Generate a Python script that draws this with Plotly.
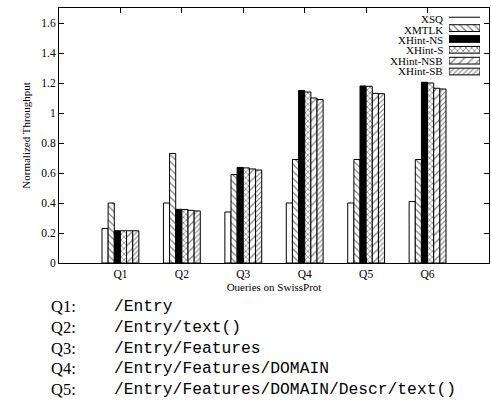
import plotly.graph_objects as go

QUERIES = ["Q1", "Q2", "Q3", "Q4", "Q5", "Q6"]
SERIES = ["XSQ", "XMTLK", "XHint-NS", "XHint-S", "XHint-NSB", "XHint-SB"]
XSQ = [0.23, 0.40, 0.34, 0.40, 0.40, 0.41]
XMTLK = [0.40, 0.73, 0.59, 0.69, 0.69, 0.69]
XHINT_NS = [0.215, 0.358, 0.637, 1.15, 1.18, 1.205]
XHINT_S = [0.215, 0.357, 0.634, 1.14, 1.178, 1.20]
XHINT_NSB = [0.215, 0.351, 0.627, 1.10, 1.131, 1.165]
XHINT_SB = [0.215, 0.347, 0.62, 1.09, 1.129, 1.16]
VALUES = [XSQ, XMTLK, XHINT_NS, XHINT_S, XHINT_NSB, XHINT_SB]
Y_TICKS = [0, 0.2, 0.4, 0.6, 0.8, 1, 1.2, 1.4, 1.6]
Y_TICK_LABELS = ["0", "0.2", "0.4", "0.6", "0.8", "1", "1.2", "1.4", "1.6"]
QUERY_LABELS = ["Q1:", "Q2:", "Q3:", "Q4:", "Q5:"]
QUERY_PATHS = ["/Entry", "/Entry/text()", "/Entry/Features",
               "/Entry/Features/DOMAIN", "/Entry/Features/DOMAIN/Descr/text()"]

STYLES = [
    dict(color="white", pattern=None),
    dict(color="white", pattern=dict(shape="\\", fgcolor="black", bgcolor="white", size=5, solidity=0.25)),
    dict(color="black", pattern=None),
    dict(color="white", pattern=dict(shape="x", fgcolor="black", bgcolor="white", size=4, solidity=0.35)),
    dict(color="white", pattern=dict(shape="/", fgcolor="black", bgcolor="white", size=6, solidity=0.2)),
    dict(color="white", pattern=dict(shape="/", fgcolor="black", bgcolor="white", size=3.5, solidity=0.3)),
]

W, H = 491, 406
L, R, T, B = 59, 489, 8, 263

def px(x):
    return (x - L) / (R - L)

def py(y):
    return (B - y) / (B - T)

fig = go.Figure()
for name, vals, st in zip(SERIES, VALUES, STYLES):
    marker = dict(color=st["color"], line=dict(color="black", width=1))
    if st["pattern"]:
        marker["pattern"] = st["pattern"]
    fig.add_trace(go.Bar(x=QUERIES, y=vals, name=name, marker=marker,
                         showlegend=False, xaxis="x", yaxis="y"))

# custom legend swatches (inset axes)
for name, st in zip(SERIES, STYLES):
    if name == "XSQ":
        fig.add_trace(go.Scatter(x=[0, 1], y=[name, name], mode="lines",
                                 line=dict(color="black", width=1),
                                 showlegend=False, xaxis="x2", yaxis="y2"))
    else:
        marker = dict(color=st["color"], line=dict(color="black", width=1))
        if st["pattern"]:
            marker["pattern"] = st["pattern"]
        fig.add_trace(go.Bar(x=[1], y=[name], orientation="h", marker=marker,
                             width=0.62, showlegend=False, xaxis="x2", yaxis="y2"))

serif = "Liberation Serif"
annotations = []
for i, name in enumerate(SERIES):
    yc = 19.3 + i * 10.3
    annotations.append(dict(text=name, xref="paper", yref="paper", x=px(444), y=py(yc),
                            xanchor="right", yanchor="middle", showarrow=False, borderpad=0,
                            font=dict(family=serif, size=11, color="black")))
for i, (q, p) in enumerate(zip(QUERY_LABELS, QUERY_PATHS)):
    yc = 306.5 + i * 20.8
    annotations.append(dict(text=q, xref="paper", yref="paper", x=px(49), y=py(yc),
                            xanchor="left", yanchor="middle", showarrow=False,
                            font=dict(family=serif, size=16.5, color="black")))
    annotations.append(dict(text=p, xref="paper", yref="paper", x=px(112), y=py(yc),
                            xanchor="left", yanchor="middle", showarrow=False,
                            font=dict(family="Liberation Mono", size=16.3, color="black")))

fig.update_layout(
    width=W, height=H,
    margin=dict(l=L, r=W - R, t=T, b=H - B),
    paper_bgcolor="white", plot_bgcolor="white",
    barmode="group", bargap=0.4, bargroupgap=0,
    font=dict(family=serif, size=11, color="black"),
    xaxis=dict(range=[-1, 6], showline=True, linecolor="black", linewidth=1, mirror="ticks",
               ticks="inside", ticklen=5, tickcolor="black", showgrid=False,
               tickfont=dict(family=serif, size=11.5),
               title=dict(text="Oueries on SwissProt", font=dict(family=serif, size=11), standoff=4)),
    yaxis=dict(range=[0, 1.7], tickvals=Y_TICKS, ticktext=Y_TICK_LABELS,
               showline=True, linecolor="black", linewidth=1, mirror="ticks",
               ticks="inside", ticklen=5, tickcolor="black", showgrid=False, zeroline=False,
               tickfont=dict(family=serif, size=11.5),
               title=dict(text="Normalized Throughput", font=dict(family=serif, size=11), standoff=8)),
    xaxis2=dict(domain=[px(449), px(480)], range=[0, 1], anchor="y2", visible=False, fixedrange=True),
    yaxis2=dict(domain=[py(19.3 + 5.5 * 10.3 + 1), py(19.3 - 5.2)], anchor="x2", visible=False,
                autorange="reversed", fixedrange=True, type="category"),
    annotations=annotations,
)

fig.write_html("out.html")
